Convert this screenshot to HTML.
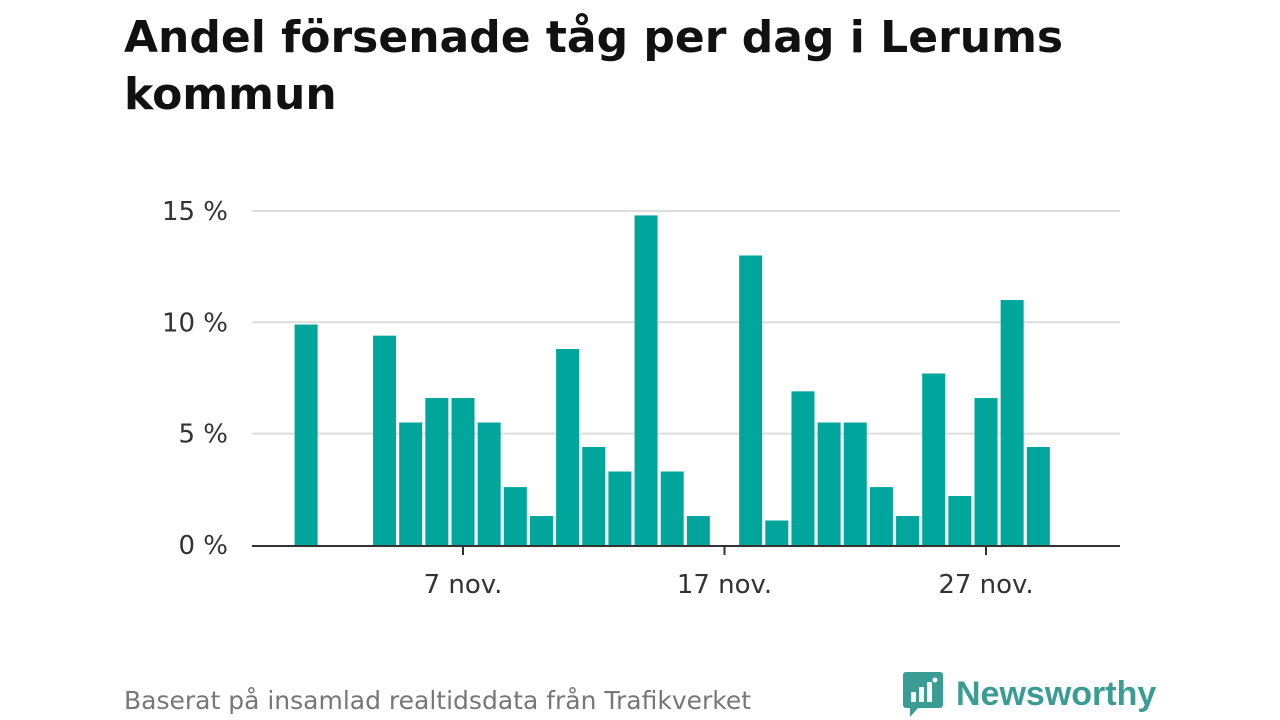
<!DOCTYPE html>
<html><head><meta charset="utf-8"><style>
body{margin:0;background:#fff;font-family:"DejaVu Sans","Liberation Sans",sans-serif;}
#wrap{position:relative;width:1280px;height:720px;overflow:hidden}
h1{position:absolute;left:124px;top:9px;margin:0;font-size:44px;line-height:57px;font-weight:bold;color:#111;width:1040px}
.src{position:absolute;left:124px;top:686px;font-size:25px;color:#777}
.logo{position:absolute;left:902px;top:670px;display:flex;align-items:center;color:#3a9c92;font-size:34px;font-weight:bold;font-family:"Liberation Sans",sans-serif}
</style></head><body><div id="wrap">
<h1>Andel försenade tåg per dag i Lerums kommun</h1>
<svg id="chart" width="1280" height="720" style="position:absolute;left:0;top:0"></svg>
<div class="src">Baserat på insamlad realtidsdata från Trafikverket</div>
<div class="logo"><svg width="42" height="48" viewBox="0 0 42 48"><path d="M4 2h34a3 3 0 0 1 3 3v30a3 3 0 0 1-3 3H16l-8 9v-9H4a3 3 0 0 1-3-3V5a3 3 0 0 1 3-3z" fill="#3a9c92"/><rect x="9" y="22" width="5" height="10" fill="#fff"/><rect x="17" y="17" width="5" height="15" fill="#fff"/><rect x="25" y="12" width="5" height="20" fill="#fff"/><circle cx="33" cy="10" r="2.5" fill="#fff"/></svg><span style="margin-left:12px">Newsworthy</span></div>
</div>
<script>
const days=[1,2,3,4,5,6,7,8,9,10,11,12,13,14,15,16,17,18,19,20,21,22,23,24,25,26,27,28,29];
const values=[9.9,0,0,9.4,5.5,6.6,6.6,5.5,2.6,1.3,8.8,4.4,3.3,14.8,3.3,1.3,0,13.0,1.1,6.9,5.5,5.5,2.6,1.3,7.7,2.2,6.6,11.0,4.4];
const yTicks=[0,5,10,15];
const yTickLabels=["0 %","5 %","10 %","15 %"];
const xTicks=[7,17,27];
const xTickLabels=["7 nov.","17 nov.","27 nov."];
const NS="http://www.w3.org/2000/svg";
const svg=document.getElementById('chart');
const x=d=>463+(d-7)*26.15;
const y=v=>545-v*22.27;
function mk(t,a){const e=document.createElementNS(NS,t);for(const k in a)e.setAttribute(k,a[k]);svg.appendChild(e);return e;}
yTicks.forEach((t,i)=>{
 if(t>0){const l=mk('line',{x1:252,x2:1120,y1:y(t),y2:y(t),stroke:'#ddd','stroke-width':2});
 
 }
 const tx=mk('text',{x:228,y:y(t)+9,'text-anchor':'end','font-size':26,fill:'#333','font-family':'DejaVu Sans, sans-serif'});
 tx.textContent=yTickLabels[i];
 
 
});
days.forEach((d,i)=>{
 if(values[i]<=0)return;
 const r=mk('rect',{x:x(d)-11.5,y:y(values[i]),width:23,height:545-y(values[i]),fill:'#00a69b'});
 
 
});
const ax=mk('line',{x1:252,x2:1120,y1:546,y2:546,stroke:'#333','stroke-width':2});


xTicks.forEach((t,i)=>{
 const tk=mk('line',{x1:x(t),x2:x(t),y1:546,y2:555,stroke:'#333','stroke-width':2});
 
 
 const tx=mk('text',{x:x(t),y:593,'text-anchor':'middle','font-size':26,fill:'#333','font-family':'DejaVu Sans, sans-serif'});
 tx.textContent=xTickLabels[i];
 
 
});
</script></body></html>
